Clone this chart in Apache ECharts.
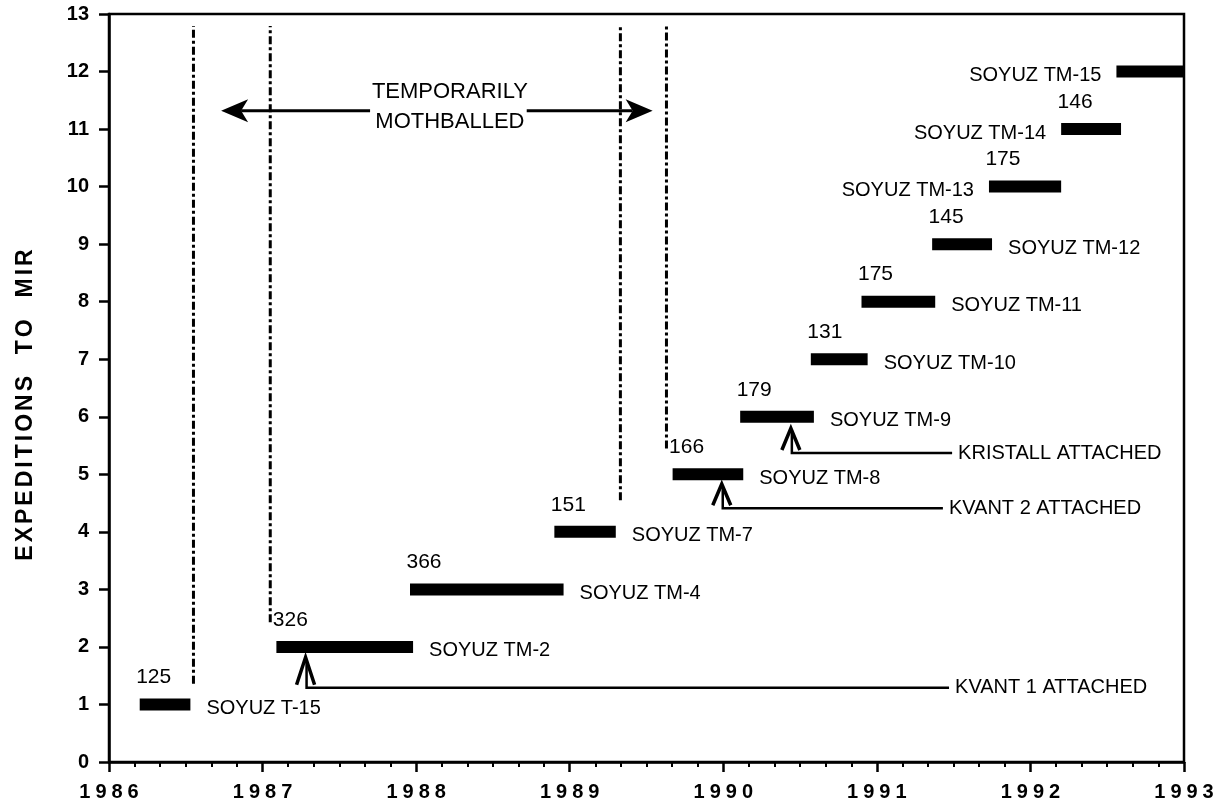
<!DOCTYPE html>
<html>
<head>
<meta charset="UTF-8">
<title>Expeditions to Mir</title>
<script src="https://cdn.jsdelivr.net/npm/echarts@6/dist/echarts.min.js"></script>
<style>
  html, body { margin: 0; padding: 0; background: #fff; }
  #chart { width: 1226px; height: 810px; }
</style>
</head>
<body>
<div id="chart"></div>
<script type="text/javascript">
// expeditions: start / end as decimal years, expedition number, days in orbit, ship
var expStart = [1986.20, 1987.09, 1987.96, 1988.90, 1989.67, 1990.11, 1990.57, 1990.90, 1991.36, 1991.73, 1992.20, 1992.56];
var expEnd   = [1986.53, 1987.98, 1988.96, 1989.30, 1990.13, 1990.59, 1990.94, 1991.38, 1991.75, 1992.20, 1992.59, 1993.00];
var expNo    = [1, 2, 3, 4, 5, 6, 7, 8, 9, 10, 11, 12];
var expDays  = ['125', '326', '366', '151', '166', '179', '131', '175', '145', '175', '146', ''];
var expShip  = ['SOYUZ T-15', 'SOYUZ TM-2', 'SOYUZ TM-4', 'SOYUZ TM-7', 'SOYUZ TM-8', 'SOYUZ TM-9',
                'SOYUZ TM-10', 'SOYUZ TM-11', 'SOYUZ TM-12', 'SOYUZ TM-13', 'SOYUZ TM-14', 'SOYUZ TM-15'];
var shipSide = ['right', 'right', 'right', 'right', 'right', 'right', 'right', 'right', 'right', 'left', 'left', 'left'];

// dash-dot lines around the two mothballed periods
var gapX   = [1986.55, 1987.05, 1989.33, 1989.63];
var gapLow = [1.36, 2.43, 4.55, 5.45];
var gapTop = [12.79, 12.79, 12.79, 12.79];

// "temporarily mothballed" double arrow
var arrowFrom = [1987.70, 1988.72];
var arrowTo   = [1986.73, 1989.54];
var arrowY    = [11.32, 11.32];
var noteText  = 'TEMPORARILY\nMOTHBALLED';
var notePos   = [1988.22, 11.38];

// modules attached
var modName = ['KVANT 1 ATTACHED', 'KVANT 2 ATTACHED', 'KRISTALL ATTACHED'];
var modX    = [1987.28, 1989.99, 1990.44];
var modTip  = [1.82, 4.83, 5.80];
var modLine = [1.29, 4.41, 5.37];
var modEnd  = [1991.47, 1991.43, 1991.49];

var FONT = '"Liberation Sans", Arial, Helvetica, sans-serif';

function spread(str) {
  return str.split('').map(function (c) { return '{c|' + c + '}'; }).join('');
}

var chart = echarts.init(document.getElementById('chart'));

var expData = expStart.map(function (s, i) { return [s, expEnd[i], expNo[i]]; });
var gapData = gapX.map(function (x, i) { return [x, gapLow[i], gapTop[i]]; });
var arrowData = arrowFrom.map(function (x, i) { return [x, arrowTo[i], arrowY[i]]; });
var modData = modX.map(function (x, i) { return [x, modTip[i], modLine[i], modEnd[i]]; });

var option = {
  backgroundColor: '#fff',
  animation: false,
  grid: {
    left: 109, right: 42, top: 14, bottom: 48,
    show: true, borderColor: '#000', borderWidth: 2.5, backgroundColor: 'transparent'
  },
  xAxis: {
    type: 'value', min: 1986, max: 1993, interval: 1,
    axisLine: { show: true, lineStyle: { color: '#000', width: 2.5 } },
    axisTick: { show: true, inside: false, length: 10, lineStyle: { color: '#000', width: 2.5 } },
    minorTick: { show: true, splitNumber: 6, length: 5, lineStyle: { color: '#000', width: 2 } },
    splitLine: { show: false },
    axisLabel: {
      margin: 20,
      formatter: function (v) {
        return String(v).split('').map(function (c) { return '{d|' + c + '}'; }).join('');
      },
      rich: { d: { fontFamily: FONT, fontSize: 20, fontWeight: 'bold', color: '#000', padding: [0, 2.5, 0, 2.5] } }
    }
  },
  yAxis: {
    type: 'value', min: 0, max: 13, interval: 1,
    name: spread('EXPEDITIONS  TO  MIR'),
    nameLocation: 'middle', nameRotate: 90, nameGap: 72,
    nameTextStyle: {
      padding: [0, 34, 0, 0],
      rich: { c: { fontFamily: FONT, fontSize: 23, fontWeight: 'bold', color: '#000', padding: [0, 1.5, 0, 1.5] } }
    },
    axisLine: { show: true, lineStyle: { color: '#000', width: 2.5 } },
    axisTick: { show: true, inside: false, length: 10, lineStyle: { color: '#000', width: 2.5 } },
    splitLine: { show: false },
    axisLabel: { margin: 20, fontFamily: FONT, fontSize: 20, fontWeight: 'bold', color: '#000' }
  },
  series: [
    {
      // dash-dot boundaries
      type: 'custom', name: 'gaps', data: gapData, silent: true,
      renderItem: function (params, api) {
        var a = api.coord([api.value(0), api.value(1)]);
        var b = api.coord([api.value(0), api.value(2)]);
        return {
          type: 'line',
          shape: { x1: a[0], y1: a[1], x2: b[0], y2: b[1] },
          style: { stroke: '#000', lineWidth: 3, lineDash: [8, 3, 3, 3], fill: null }
        };
      }
    },
    {
      // double arrow halves
      type: 'custom', name: 'mothballed', data: arrowData, silent: true,
      renderItem: function (params, api) {
        var a = api.coord([api.value(0), api.value(2)]);
        var t = api.coord([api.value(1), api.value(2)]);
        var dir = t[0] > a[0] ? 1 : -1;
        var notch = t[0] - dir * 20;
        return {
          type: 'group',
          children: [
            { type: 'line', shape: { x1: a[0], y1: a[1], x2: notch, y2: t[1] },
              style: { stroke: '#000', lineWidth: 3 } },
            { type: 'polygon',
              shape: { points: [[t[0], t[1]], [t[0] - dir * 27, t[1] - 11.5], [notch, t[1]], [t[0] - dir * 27, t[1] + 11.5]] },
              style: { fill: '#000' } }
          ]
        };
      }
    },
    {
      type: 'custom', name: 'note', data: [notePos], silent: true,
      renderItem: function (params, api) {
        var p = api.coord([api.value(0), api.value(1)]);
        return {
          type: 'text', x: p[0], y: p[1],
          style: { text: noteText, fontFamily: FONT, fontSize: 22, fill: '#000',
                   align: 'center', verticalAlign: 'middle', lineHeight: 30 }
        };
      }
    },
    {
      // modules attached
      type: 'custom', name: 'modules', data: modData, silent: true,
      renderItem: function (params, api) {
        var tip = api.coord([api.value(0), api.value(1)]);
        var ln = api.coord([api.value(0), api.value(2)]);
        var end = api.coord([api.value(3), api.value(2)]);
        var h = ln[1] - tip[1];
        return {
          type: 'group',
          children: [
            { type: 'polyline',
              shape: { points: [[tip[0] - 9, tip[1] + h - 3], [tip[0], tip[1]], [tip[0] + 9, tip[1] + h - 3]] },
              style: { stroke: '#000', lineWidth: 3.5, fill: null } },
            { type: 'polyline',
              shape: { points: [[tip[0] + 1, tip[1] + 2], [tip[0] + 1, ln[1]], [end[0], ln[1]]] },
              style: { stroke: '#000', lineWidth: 2.5, fill: null } },
            { type: 'text', x: end[0] + 6, y: ln[1],
              style: { text: modName[params.dataIndex], fontFamily: FONT, fontSize: 20, fill: '#000',
                       align: 'left', verticalAlign: 'middle' } }
          ]
        };
      }
    },
    {
      // expedition bars with durations and ship names
      type: 'custom', name: 'expeditions', data: expData, silent: true,
      renderItem: function (params, api) {
        var i = params.dataIndex;
        var s = api.coord([api.value(0), api.value(2)]);
        var e = api.coord([api.value(1), api.value(2)]);
        var kids = [
          { type: 'rect', shape: { x: s[0], y: s[1] - 6, width: e[0] - s[0], height: 12 },
            style: { fill: '#000' } }
        ];
        if (expDays[i]) {
          kids.push({ type: 'text', x: s[0] + 14, y: s[1] - 27,
            style: { text: expDays[i], fontFamily: FONT, fontSize: 21, fill: '#000',
                     align: 'center', verticalAlign: 'middle' } });
        }
        var left = shipSide[i] === 'left';
        kids.push({ type: 'text', x: left ? s[0] - 15 : e[0] + 16, y: s[1] + 4,
          style: { text: expShip[i], fontFamily: FONT, fontSize: 20, fill: '#000',
                   align: left ? 'right' : 'left', verticalAlign: 'middle' } });
        return { type: 'group', children: kids };
      }
    }
  ]
};

chart.setOption(option);
</script>
</body>
</html>
